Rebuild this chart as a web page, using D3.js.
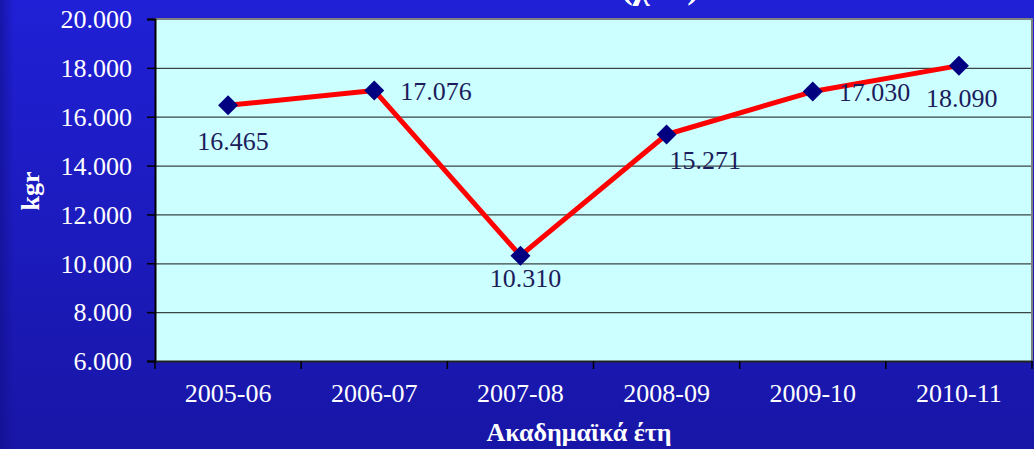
<!DOCTYPE html>
<html><head><meta charset="utf-8">
<script src="https://cdn.jsdelivr.net/npm/d3@7"></script>
<style>html,body{margin:0;padding:0;overflow:hidden;background:#1c1cc0}</style>
</head><body>
<svg id="c" width="1034" height="449"></svg>
<script>
const categories = ["2005-06","2006-07","2007-08","2008-09","2009-10","2010-11"];
const values = [16465,17076,10310,15271,17030,18090];
const valueLabels = ["16.465","17.076","10.310","15.271","17.030","18.090"];
const yTicks = [6000,8000,10000,12000,14000,16000,18000,20000];
const yTickLabels = ["6.000","8.000","10.000","12.000","14.000","16.000","18.000","20.000"];
// label placement: [dx, dy, anchor]
const labelPlace = [[5,45,"middle"],[26,10,"start"],[5,31,"middle"],[3,34,"start"],[26,9,"start"],[-33,41,"start"]];

const svg = d3.select("#c");
const W=1034,H=449;
const defs = svg.append("defs");
const g1 = defs.append("linearGradient").attr("id","bg").attr("x1",0).attr("y1",0).attr("x2",0).attr("y2",1);
g1.append("stop").attr("offset","0%").attr("stop-color","#2020d6");
g1.append("stop").attr("offset","100%").attr("stop-color","#1816a6");
const g2 = defs.append("linearGradient").attr("id","edge").attr("x1",0).attr("y1",0).attr("x2",1).attr("y2",0);
g2.append("stop").attr("offset","0%").attr("stop-color","#10108a").attr("stop-opacity",0.6);
g2.append("stop").attr("offset","100%").attr("stop-color","#10108a").attr("stop-opacity",0);
svg.append("rect").attr("width",W).attr("height",H).attr("fill","url(#bg)");
svg.append("rect").attr("width",14).attr("height",H).attr("fill","url(#edge)");

const L=155,R=1032,T=19,B=361;
const x = d3.scaleBand().domain(categories).range([L,R]).padding(0);
const y = d3.scaleLinear().domain([6000,20000]).range([B,T]);
const serif = "'Liberation Serif','Times New Roman',serif";

// title fragment (cut off at top, as in the reference)
svg.append("text").attr("x",660).attr("y",-2).attr("text-anchor","middle")
  .attr("font-family",serif).attr("font-weight","bold").attr("font-size",36).attr("fill","#fff").text("(χιλ.)");

// plot area
svg.append("rect").attr("x",L).attr("y",T).attr("width",R-L).attr("height",B-T).attr("fill","#ccffff");
// gridlines
svg.append("g").selectAll("line").data(yTicks.filter(d=>d>6000 && d<20000)).join("line")
  .attr("x1",L).attr("x2",R).attr("y1",d=>y(d)+0.5).attr("y2",d=>y(d)+0.5)
  .attr("stroke","#3a4444").attr("stroke-width",1.2);
// border: top/right gray
svg.append("path").attr("d",`M${L},${T}H${R}V${B}`).attr("fill","none").attr("stroke","#7f8080").attr("stroke-width",2);

// y axis
const yAxis = d3.axisLeft(y).tickValues(yTicks).tickSize(8).tickFormat((d,i)=>yTickLabels[i]);
const ya = svg.append("g").attr("transform",`translate(${L},0)`).call(yAxis);
ya.select(".domain").attr("stroke","#000").attr("stroke-width",2);
ya.selectAll(".tick line").attr("stroke","#000").attr("stroke-width",1.5);
ya.selectAll(".tick text").attr("x",-23).attr("dy","0.34em").attr("font-family",serif).attr("font-size",26).attr("fill","#fff");

// x axis
const xAxis = d3.axisBottom(x).tickSize(0);
const xa = svg.append("g").attr("transform",`translate(0,${B})`).call(xAxis);
xa.select(".domain").attr("stroke","#222").attr("stroke-width",2);
xa.selectAll(".tick text").attr("y",41).attr("dy",0).attr("font-family",serif).attr("font-size",26).attr("fill","#fff");
// x ticks at band boundaries
const bounds = categories.map(c=>x(c)).concat([R]);
svg.append("g").selectAll("line").data(bounds).join("line")
  .attr("x1",d=>d).attr("x2",d=>d).attr("y1",B).attr("y2",B+8).attr("stroke","#000").attr("stroke-width",1.5);

// line
const cx = c => x(c)+x.bandwidth()/2;
const line = d3.line().x((d,i)=>cx(categories[i])).y(d=>y(d));
svg.append("path").datum(values).attr("d",line).attr("fill","none").attr("stroke","#ff0000").attr("stroke-width",5).attr("stroke-linejoin","round");
// markers
svg.append("g").selectAll("path").data(values).join("path")
  .attr("d","M0,-10L10,0L0,10L-10,0Z")
  .attr("transform",(d,i)=>`translate(${cx(categories[i])},${y(d)})`)
  .attr("fill","#000080");
// labels
svg.append("g").selectAll("text").data(values).join("text")
  .attr("x",(d,i)=>cx(categories[i])+labelPlace[i][0])
  .attr("y",(d,i)=>y(d)+labelPlace[i][1])
  .attr("text-anchor",(d,i)=>labelPlace[i][2])
  .attr("font-family",serif).attr("font-size",26).attr("fill","#1c1c5c")
  .text((d,i)=>valueLabels[i]);

// axis titles
svg.append("text").attr("transform","translate(39,191) rotate(-90)").attr("text-anchor","middle")
  .attr("font-family",serif).attr("font-weight","bold").attr("font-size",26).attr("fill","#fff").text("kgr");
svg.append("text").attr("x",579).attr("y",441).attr("text-anchor","middle")
  .attr("font-family",serif).attr("font-weight","bold").attr("font-size",26).attr("fill","#fff").text("Ακαδημαϊκά έτη");
</script>
</body></html>
